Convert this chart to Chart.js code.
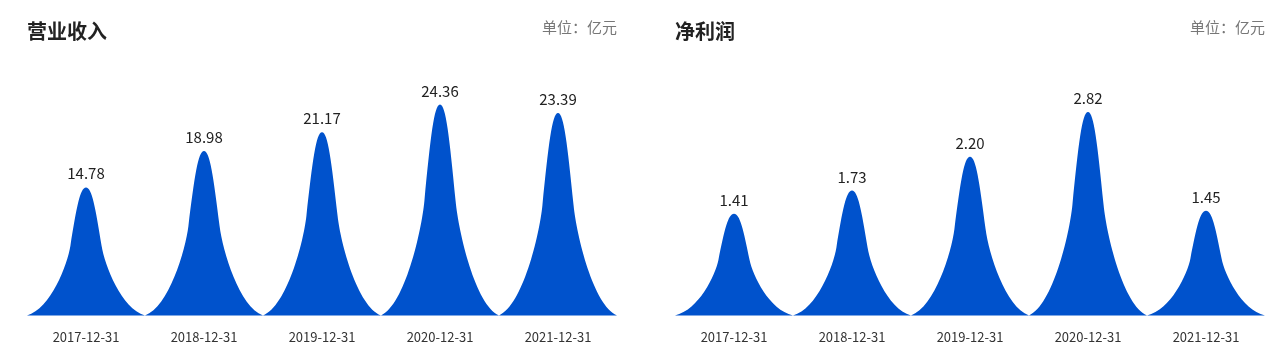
<!DOCTYPE html>
<html>
<head>
<meta charset="utf-8">
<script src="https://cdn.jsdelivr.net/npm/chart.js@4.4.0/dist/chart.umd.min.js"></script>
<style>
  body{margin:0;background:#fff;font-family:"Noto Sans CJK SC","Noto Sans",sans-serif;}
  .panel{position:absolute;top:0;width:640px;height:363px;}
  .title{position:absolute;left:27px;top:16px;font-size:20px;font-weight:bold;color:#222;}
  .unit{position:absolute;right:23px;top:16px;font-size:15px;color:#777;}
  canvas{position:absolute;left:0;top:0;}
</style>
</head>
<body>
<div class="panel" style="left:0">
  <canvas id="revChart" width="640" height="363"></canvas>
  <div class="title">营业收入</div>
  <div class="unit">单位：亿元</div>
</div>
<div class="panel" style="left:648px">
  <canvas id="profitChart" width="640" height="363"></canvas>
  <div class="title">净利润</div>
  <div class="unit">单位：亿元</div>
</div>
<script>
// data
const dates = ['2017-12-31','2018-12-31','2019-12-31','2020-12-31','2021-12-31'];
const revenue = [14.78, 18.98, 21.17, 24.36, 23.39];
const netProfit = [1.41, 1.73, 2.20, 2.82, 1.45];

const BLUE = '#0052CC';

// peak shape: half-width d (fraction of bar width), h (0 top .. 1 base)
function drawPeak(ctx, x, top, base, w){
  const H = base - top;
  const P = (d,h) => [x + d*w, top + h*H];
  ctx.beginPath();
  ctx.moveTo(...P(-0.5,1));
  ctx.lineTo(...P(0.5,1));
  ctx.bezierCurveTo(...P(0.3,0.95), ...P(0.158,0.606), ...P(0.132,0.456));
  ctx.bezierCurveTo(...P(0.0795,0.156), ...P(0.05,0), ...P(0,0));
  ctx.bezierCurveTo(...P(-0.05,0), ...P(-0.0795,0.156), ...P(-0.132,0.456));
  ctx.bezierCurveTo(...P(-0.158,0.606), ...P(-0.3,0.95), ...P(-0.5,1));
  ctx.closePath();
  ctx.fillStyle = BLUE;
  ctx.fill();
}

const peakPlugin = {
  id:'peaks',
  afterDatasetsDraw(chart){
    const ctx = chart.ctx;
    const meta = chart.getDatasetMeta(0);
    const vals = chart.data.datasets[0].data;
    ctx.save();
    meta.data.forEach((bar,i)=>{
      const p = bar.getProps(['x','y','base','width'], true);
      drawPeak(ctx, p.x, p.y, p.base, p.width);
      ctx.fillStyle = '#222';
      ctx.font = '15px "Noto Sans CJK SC","Noto Sans",sans-serif';
      ctx.textAlign = 'center';
      ctx.textBaseline = 'alphabetic';
      ctx.fillText(vals[i].toFixed(2), p.x, p.y - 8);
    });
    ctx.restore();
  }
};

function makePeakChart(id, values, maxVal){
  return new Chart(document.getElementById(id), {
    type:'bar',
    data:{ labels:dates, datasets:[{ data:values, backgroundColor:'rgba(0,0,0,0)', categoryPercentage:1, barPercentage:1 }]},
    options:{
      responsive:false,
      animation:false,
      layout:{ padding:{ left:27, right:23, top:99, bottom:12 } },
      plugins:{ legend:{display:false}, tooltip:{enabled:false} },
      scales:{
        x:{
          grid:{display:false}, border:{display:false},
          ticks:{ color:'#333', padding:6, maxRotation:0, font:{ size:13, family:'"Noto Sans CJK SC","Noto Sans",sans-serif' } }
        },
        y:{ display:false, min:0, max:maxVal }
      }
    },
    plugins:[peakPlugin]
  });
}

makePeakChart('revChart', revenue, 25);
makePeakChart('profitChart', netProfit, 3);
</script>
</body>
</html>
